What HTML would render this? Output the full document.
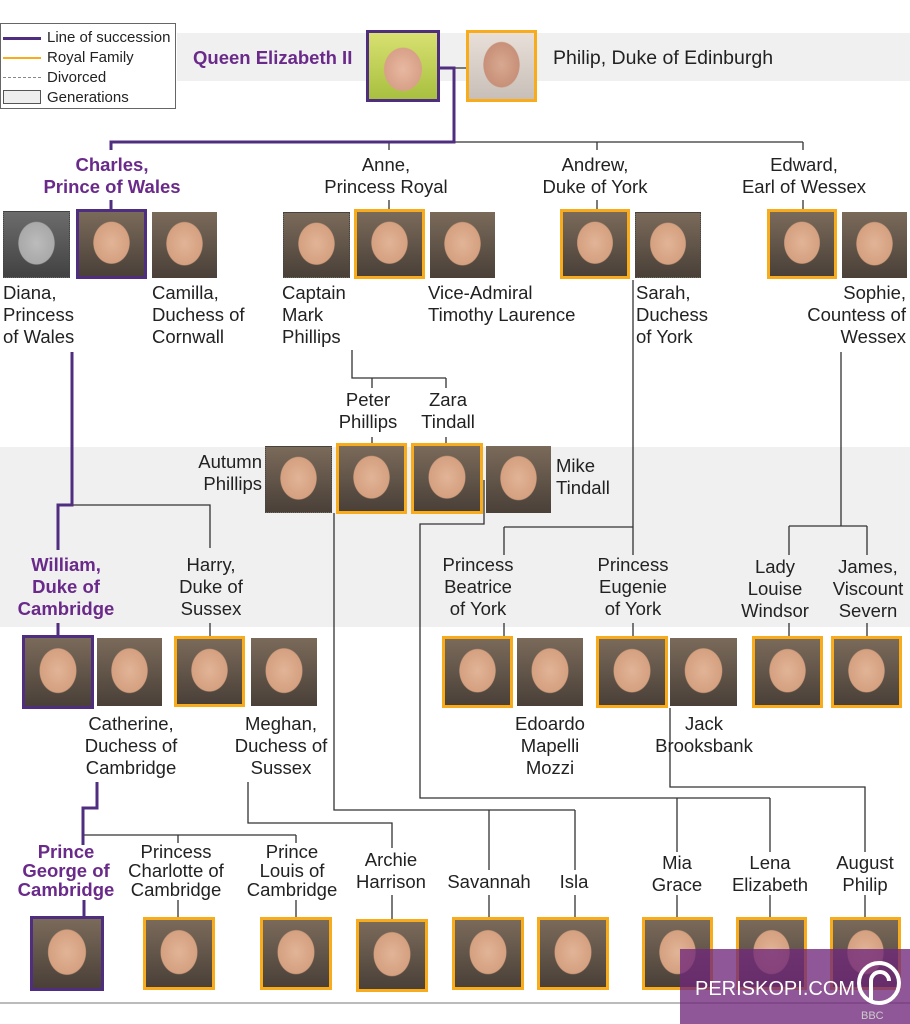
<!DOCTYPE html>
<html><head><meta charset="utf-8"><style>
*{margin:0;padding:0;box-sizing:border-box}
body{width:910px;height:1024px;position:relative;background:#fff;font-family:"Liberation Sans",sans-serif;color:#222;overflow:hidden}
.band{position:absolute;background:#f0f0f0}
.t{position:absolute;font-size:18.5px;line-height:22px;white-space:nowrap}
.c{text-align:center;width:200px;margin-left:-100px}
.p{color:#6a2a8a;font-weight:bold}
.b{font-weight:bold}
.ph{position:absolute;background:radial-gradient(ellipse 34% 40% at 50% 48%,#e2b497 0,#d4a080 80%,transparent 84%),linear-gradient(#7a6a5a,#4a4038)}
.o{border:3px solid #f8ac1c}
.pu{border:3px solid #4f2d7f}
.d{border:1.5px dotted #444}
</style></head><body>
<div class="band" style="left:177px;top:33px;width:733px;height:48px"></div>
<div class="band" style="left:0;top:447px;width:910px;height:180px"></div>

<svg style="position:absolute;left:0;top:0" width="910" height="1024">
<g stroke="#333" stroke-width="1.3" fill="none">
<path d="M454 68H466M454 142H803M389 142V150M597 142V150M803 142V150M389 200V209M597 200V209M803 200V209"/>
<path d="M352 350V378H446M372 378V388M446 378V388M372 437V443M446 437V443"/>
<path d="M72 505H210V548M210 623V636"/>
<path d="M633 280V555M504 527H633M504 527V555M504 623V636M633 623V636"/>
<path d="M841 352V526M789 526H867M789 526V555M867 526V555M789 623V636M867 623V636"/>
<path d="M334 513V810H575M489 810V870M575 810V870M489 895V917M575 895V917"/>
<path d="M484 480V524H420V798H770M677 798V852M770 798V852M677 895V917M770 895V917"/>
<path d="M670 708V787H865V852M865 895V917"/>
<path d="M248 782V823H392V848M392 895V919"/>
<path d="M83 835H296M178 835V843M296 835V843M178 900V917M296 900V917"/>
</g>
<g stroke="#4f2d7f" stroke-width="3" fill="none">
<path d="M440 68H454V142H111V150M111 200V209"/>
<path d="M72 352V505H58V550M58 623V636"/>
<path d="M97 782V808H83V845M84 900V916"/>
</g>
<line x1="0" y1="1003" x2="910" y2="1003" stroke="#bbb" stroke-width="2"/>
</svg>

<!-- legend -->
<div style="position:absolute;left:0;top:23px;width:176px;height:86px;border:1px solid #666;background:#fff"></div>
<div style="position:absolute;left:3px;top:37px;width:38px;height:3px;background:#4f2d7f"></div>
<div style="position:absolute;left:3px;top:57px;width:38px;height:2px;background:#f8ac1c"></div>
<div style="position:absolute;left:3px;top:77px;width:38px;border-top:1.5px dashed #888"></div>
<div style="position:absolute;left:3px;top:90px;width:38px;height:14px;border:1px solid #555;background:#eee"></div>
<div class="t" style="left:47px;top:28px;font-size:15px;line-height:20px">Line of succession<br>Royal Family<br>Divorced<br>Generations</div>

<div class="t p" style="left:193px;top:47px;font-size:18.5px">Queen Elizabeth II</div>
<div class="t" style="left:553px;top:47px;font-size:19.5px">Philip, Duke of Edinburgh</div>

<div class="t c p" style="left:112px;top:154px">Charles,<br>Prince of Wales</div>
<div class="t c" style="left:386px;top:154px">Anne,<br>Princess Royal</div>
<div class="t c" style="left:595px;top:154px">Andrew,<br>Duke of York</div>
<div class="t c" style="left:804px;top:154px">Edward,<br>Earl of Wessex</div>

<div class="t" style="left:3px;top:282px">Diana,<br>Princess<br>of Wales</div>
<div class="t" style="left:152px;top:282px">Camilla,<br>Duchess of<br>Cornwall</div>
<div class="t" style="left:282px;top:282px">Captain<br>Mark<br>Phillips</div>
<div class="t" style="left:428px;top:282px">Vice-Admiral<br>Timothy Laurence</div>
<div class="t" style="left:636px;top:282px">Sarah,<br>Duchess<br>of York</div>
<div class="t" style="left:706px;top:282px;width:200px;text-align:right">Sophie,<br>Countess of<br>Wessex</div>

<div class="t c" style="left:368px;top:389px">Peter<br>Phillips</div>
<div class="t c" style="left:448px;top:389px">Zara<br>Tindall</div>
<div class="t" style="left:62px;top:451px;width:200px;text-align:right">Autumn<br>Phillips</div>
<div class="t" style="left:556px;top:455px">Mike<br>Tindall</div>

<div class="t c p" style="left:66px;top:554px">William,<br>Duke of<br>Cambridge</div>
<div class="t c" style="left:211px;top:554px">Harry,<br>Duke of<br>Sussex</div>
<div class="t c" style="left:478px;top:554px">Princess<br>Beatrice<br>of York</div>
<div class="t c" style="left:633px;top:554px">Princess<br>Eugenie<br>of York</div>
<div class="t c" style="left:775px;top:556px">Lady<br>Louise<br>Windsor</div>
<div class="t c" style="left:868px;top:556px">James,<br>Viscount<br>Severn</div>

<div class="t c" style="left:131px;top:713px">Catherine,<br>Duchess of<br>Cambridge</div>
<div class="t c" style="left:281px;top:713px">Meghan,<br>Duchess of<br>Sussex</div>
<div class="t c" style="left:550px;top:713px">Edoardo<br>Mapelli<br>Mozzi</div>
<div class="t c" style="left:704px;top:713px">Jack<br>Brooksbank</div>

<div class="t c p" style="left:66px;top:842px;line-height:19px">Prince<br>George of<br>Cambridge</div>
<div class="t c" style="left:176px;top:842px;line-height:19px">Princess<br>Charlotte of<br>Cambridge</div>
<div class="t c" style="left:292px;top:842px;line-height:19px">Prince<br>Louis of<br>Cambridge</div>
<div class="t c" style="left:391px;top:849px">Archie<br>Harrison</div>
<div class="t c" style="left:489px;top:871px">Savannah</div>
<div class="t c" style="left:574px;top:871px">Isla</div>
<div class="t c" style="left:677px;top:852px">Mia<br>Grace</div>
<div class="t c" style="left:770px;top:852px">Lena<br>Elizabeth</div>
<div class="t c" style="left:865px;top:852px">August<br>Philip</div>

<!-- photos -->
<div class="ph pu" style="left:366px;top:30px;width:74px;height:72px;background:radial-gradient(ellipse 34% 40% at 50% 55%,#e8b8a0 0,#d8a088 80%,transparent 84%),linear-gradient(#d8e070,#a8c040)"></div>
<div class="ph o" style="left:466px;top:30px;width:71px;height:72px;background:radial-gradient(ellipse 34% 42% at 50% 48%,#d8a890 0,#c89078 80%,transparent 84%),linear-gradient(#e8e0d8,#c8c0b8)"></div>

<div class="ph d" style="left:3px;top:211px;width:67px;height:67px;filter:grayscale(1)"></div>
<div class="ph pu" style="left:76px;top:209px;width:71px;height:70px"></div>
<div class="ph" style="left:152px;top:212px;width:65px;height:66px"></div>
<div class="ph d" style="left:283px;top:212px;width:67px;height:66px"></div>
<div class="ph o" style="left:354px;top:209px;width:71px;height:70px"></div>
<div class="ph" style="left:430px;top:212px;width:65px;height:66px"></div>
<div class="ph o" style="left:560px;top:209px;width:70px;height:70px"></div>
<div class="ph d" style="left:635px;top:212px;width:66px;height:66px"></div>
<div class="ph o" style="left:767px;top:209px;width:70px;height:70px"></div>
<div class="ph" style="left:842px;top:212px;width:65px;height:66px"></div>

<div class="ph d" style="left:265px;top:446px;width:67px;height:67px"></div>
<div class="ph o" style="left:336px;top:443px;width:71px;height:71px"></div>
<div class="ph o" style="left:411px;top:443px;width:72px;height:71px"></div>
<div class="ph" style="left:486px;top:446px;width:65px;height:67px"></div>

<div class="ph pu" style="left:22px;top:635px;width:72px;height:74px"></div>
<div class="ph" style="left:97px;top:638px;width:65px;height:68px"></div>
<div class="ph o" style="left:174px;top:636px;width:71px;height:71px"></div>
<div class="ph" style="left:251px;top:638px;width:66px;height:68px"></div>
<div class="ph o" style="left:442px;top:636px;width:71px;height:72px"></div>
<div class="ph" style="left:517px;top:638px;width:66px;height:68px"></div>
<div class="ph o" style="left:596px;top:636px;width:72px;height:72px"></div>
<div class="ph" style="left:670px;top:638px;width:67px;height:68px"></div>
<div class="ph o" style="left:752px;top:636px;width:71px;height:72px"></div>
<div class="ph o" style="left:831px;top:636px;width:71px;height:72px"></div>

<div class="ph pu" style="left:30px;top:916px;width:74px;height:75px"></div>
<div class="ph o" style="left:143px;top:917px;width:72px;height:73px"></div>
<div class="ph o" style="left:260px;top:917px;width:72px;height:73px"></div>
<div class="ph o" style="left:356px;top:919px;width:72px;height:73px"></div>
<div class="ph o" style="left:452px;top:917px;width:72px;height:73px"></div>
<div class="ph o" style="left:537px;top:917px;width:72px;height:73px"></div>
<div class="ph o" style="left:642px;top:917px;width:71px;height:73px"></div>
<div class="ph o" style="left:736px;top:917px;width:71px;height:73px"></div>
<div class="ph o" style="left:830px;top:917px;width:71px;height:73px"></div>

<!-- watermark -->
<div style="position:absolute;left:680px;top:949px;width:230px;height:75px;background:rgba(112,40,122,0.78)"></div>
<div class="t" style="left:695px;top:978px;color:#fff;font-size:20px">PERISKOPI.COM</div>
<svg style="position:absolute;left:855px;top:955px" width="50" height="66">
<circle cx="24" cy="28" r="20" fill="none" stroke="#fff" stroke-width="4"/>
<path d="M16 46V26a9 9 0 0 1 18 0" fill="none" stroke="#fff" stroke-width="4"/>
<text x="6" y="64" fill="#ccc" font-size="11" font-family="Liberation Sans">BBC</text>
</svg>
</body></html>
